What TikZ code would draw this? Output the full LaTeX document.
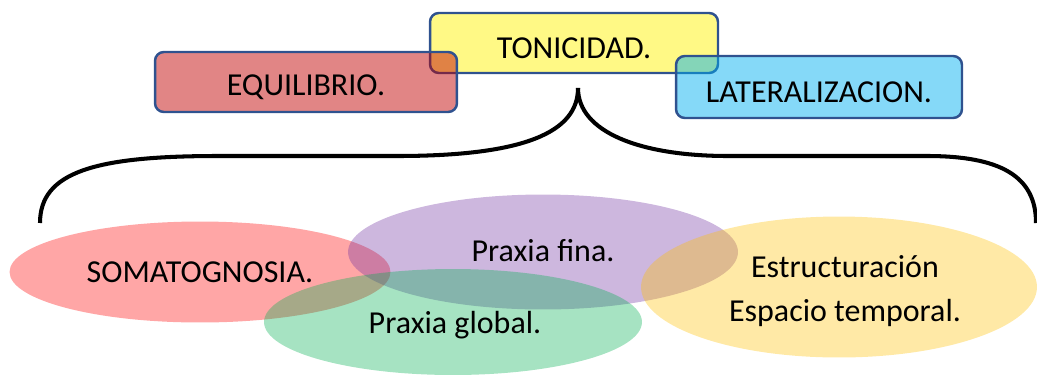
\documentclass[tikz,border=0pt]{standalone}
\usepackage{fontspec}
\setmainfont{Carlito}
\usetikzlibrary{shapes.geometric}

\definecolor{boxline}{RGB}{47,82,143}

\begin{document}
\begin{tikzpicture}[
    x=0.02cm, y=-0.02cm,
    box/.style={rectangle, rounded corners=5pt, draw=boxline, line width=1.4pt, fill opacity=0.48},
    boxtext/.style={font=\fontsize{18.2}{22}\selectfont},
    blob/.style={ellipse, inner sep=0pt, fill opacity=0.35, text opacity=1, align=center, font=\fontsize{18.2}{25}\selectfont},
    brace/.style={line width=2.3pt, black}
]
    \useasboundingbox (0,0) rectangle (1037,376);

    % cajas de arriba
    \node [box, fill=yellow, minimum width=5.76cm, minimum height=1.2cm] (tonic) at (574,43) {};
    \node [box, fill={rgb,255:red,192;green,0;blue,0}, minimum width=6.04cm, minimum height=1.2cm] (equil) at (306,82) {};
    \node [box, fill={rgb,255:red,0;green,176;blue,240}, minimum width=5.72cm, minimum height=1.24cm] (later) at (819,87) {};
    \node [boxtext] (tonic-t) at ([yshift=-0.1cm]tonic.center) {TONICIDAD.};
    \node [boxtext] (equil-t) at ([yshift=-0.1cm]equil.center) {EQUILIBRIO.};
    \node [boxtext] (later-t) at ([yshift=-0.1cm]later.center) {LATERALIZACION.};

    % llave
    \coordinate (tip) at (578,88);
    \coordinate (leftend) at (40,223);
    \coordinate (rightend) at (1036,223);
    \draw [brace] (leftend) .. controls (40,172) and (95,156) .. (218,156) -- (397,156)
        .. controls (525,156) and (578,132) .. (tip);
    \draw [brace] (tip) .. controls (578,132) and (640,156) .. (728,156) -- (927,156)
        .. controls (1000,156) and (1036,176) .. (rightend);

    % elipses de abajo
    \node [blob, fill={rgb,255:red,255;green,0;blue,0}, minimum width=7.62cm, minimum height=2.02cm] (soma) at (200,272) {SOMATOGNOSIA.};
    \node [blob, fill={rgb,255:red,112;green,48;blue,160}, minimum width=7.8cm, minimum height=2.3cm] (fina) at (543,252) {};
    \node [blob, fill={rgb,255:red,0;green,176;blue,80}, minimum width=7.56cm, minimum height=2.12cm] (global) at (453,322) {};
    \node [blob, fill={rgb,255:red,255;green,192;blue,0}, minimum width=7.92cm, minimum height=2.82cm] (espacio) at (839,287) {};
    \node [boxtext] (fina-t) at (543,251) {Praxia fina.};
    \node [boxtext] (global-t) at (455,325) {Praxia global.};
    \node [boxtext, align=center, font=\fontsize{18.2}{25}\selectfont] (espacio-t) at (845,291) {Estructuración\\Espacio temporal.};
\end{tikzpicture}
\end{document}
